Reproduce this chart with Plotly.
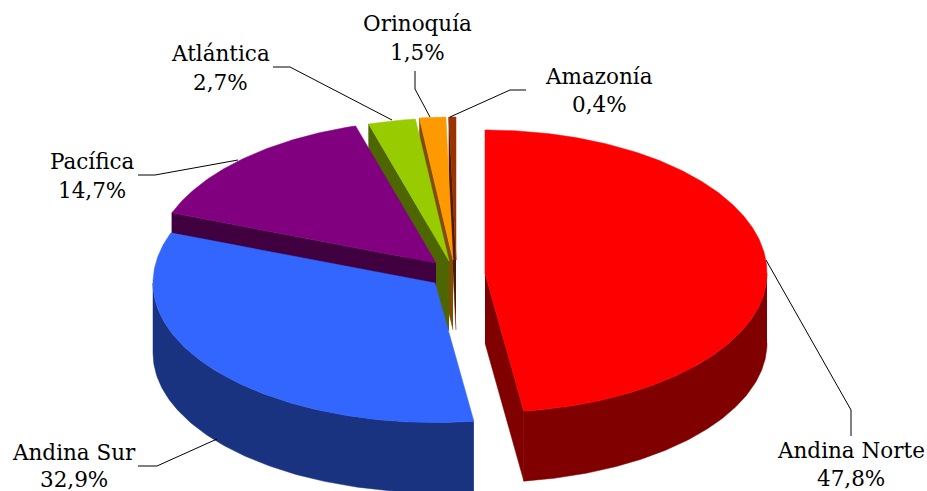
import numpy as np
import plotly.graph_objects as go

regions = ["Andina Norte", "Andina Sur", "Pacífica", "Atlántica", "Orinoquía", "Amazonía"]
shares = [47.8, 32.9, 14.7, 2.7, 1.5, 0.4]
share_labels = ["47,8%", "32,9%", "14,7%", "2,7%", "1,5%", "0,4%"]

top_colors = ["#FF0000", "#3366FF", "#800080", "#99CC00", "#FF9900", "#993300"]
wall_colors = ["#800000", "#1A3380", "#400040", "#4D6600", "#804D00", "#4D1900"]

# layout of the drawing, in axis units (the axes span the page pixel for pixel)
RX, RY_BACK, RY_FRONT, DEPTH = 282.0, 143.0, 139.5, 70.0
centers = [(485, 273), (435, 283), (436, 263), (449, 261), (453, 260), (456, 260)]
label_xy = [(851, 450, 478), (74, 452, 479), (92, 161, 190), (220, 53, 82), (417, 23, 52), (599, 76, 104)]
leaders = [
    [(766, 260), (851, 410), (851, 436)],
    [(138, 466), (157, 466), (217, 439)],
    [(138, 175), (155, 175), (238, 160)],
    [(273, 67), (290, 67), (392, 120)],
    [(415, 71), (415, 89), (430, 117)],
    [(526, 90), (510, 90), (450, 117)],
]

total = sum(shares)
edges = np.concatenate([[0.0], np.cumsum(shares) / total * 2 * np.pi])


def rim(c, t):
    cos = np.cos(t)
    return c[0] + RX * np.sin(t), c[1] - np.where(cos > 0, RY_BACK, RY_FRONT) * cos


def poly(fig, xs, ys, color):
    fig.add_trace(go.Scatter(
        x=list(xs), y=list(ys), mode="lines", fill="toself", fillcolor=color,
        line=dict(color=color, width=0.5), hoverinfo="skip", showlegend=False,
    ))


fig = go.Figure()

# painter's order: back slices first, the exploded front slice last
for i in [5, 4, 3, 2, 1, 0]:
    c = centers[i]
    t0, t1 = edges[i], edges[i + 1]

    # wall on the starting radial edge
    if i >= 2:
        rx, ry = rim(c, t0)
        poly(fig, [c[0], rx, rx, c[0]], [c[1], ry, ry + DEPTH, c[1] + DEPTH], wall_colors[i])
    # wall on the closing radial edge of the exploded slice
    if i == 0:
        rx, ry = rim(c, t1)
        poly(fig, [c[0], rx, rx, c[0]], [c[1], ry, ry + DEPTH, c[1] + DEPTH], wall_colors[i])

    # outer curved wall: only the part facing the viewer
    a0 = max(t0, np.pi / 2)
    a1 = min(t1, 3 * np.pi / 2)
    if a1 > a0:
        ts = np.linspace(a0, a1, 120)
        ax, ay = rim(c, ts)
        poly(fig, np.r_[ax, ax[::-1]], np.r_[ay, ay[::-1] + DEPTH], wall_colors[i])

    # top face
    ts = np.linspace(t0, t1, max(8, int(shares[i] * 6)))
    ax, ay = rim(c, ts)
    poly(fig, np.r_[c[0], ax, c[0]], np.r_[c[1], ay, c[1]], top_colors[i])

# leader lines
for pts in leaders:
    fig.add_trace(go.Scatter(
        x=[p[0] for p in pts], y=[p[1] for p in pts], mode="lines",
        line=dict(color="#000000", width=1), hoverinfo="skip", showlegend=False,
    ))

# labels
for name, pct, (lx, y1, y2) in zip(regions, share_labels, label_xy):
    for text, ly in ((name, y1), (pct, y2)):
        fig.add_annotation(x=lx, y=ly, text=text, showarrow=False, xanchor="center", yanchor="middle",
                           font=dict(family="DejaVu Serif", size=21.5, color="#000000"))

fig.update_xaxes(range=[0, 927], visible=False, fixedrange=True)
fig.update_yaxes(range=[491, 0], visible=False, fixedrange=True)
fig.update_layout(width=927, height=491, margin=dict(l=0, r=0, t=0, b=0),
                  paper_bgcolor="#FFFFFF", plot_bgcolor="#FFFFFF", showlegend=False)

fig.write_html("out.html", config={"displayModeBar": False},
               post_script="document.body.style.margin='0';document.body.style.overflow='hidden';")
